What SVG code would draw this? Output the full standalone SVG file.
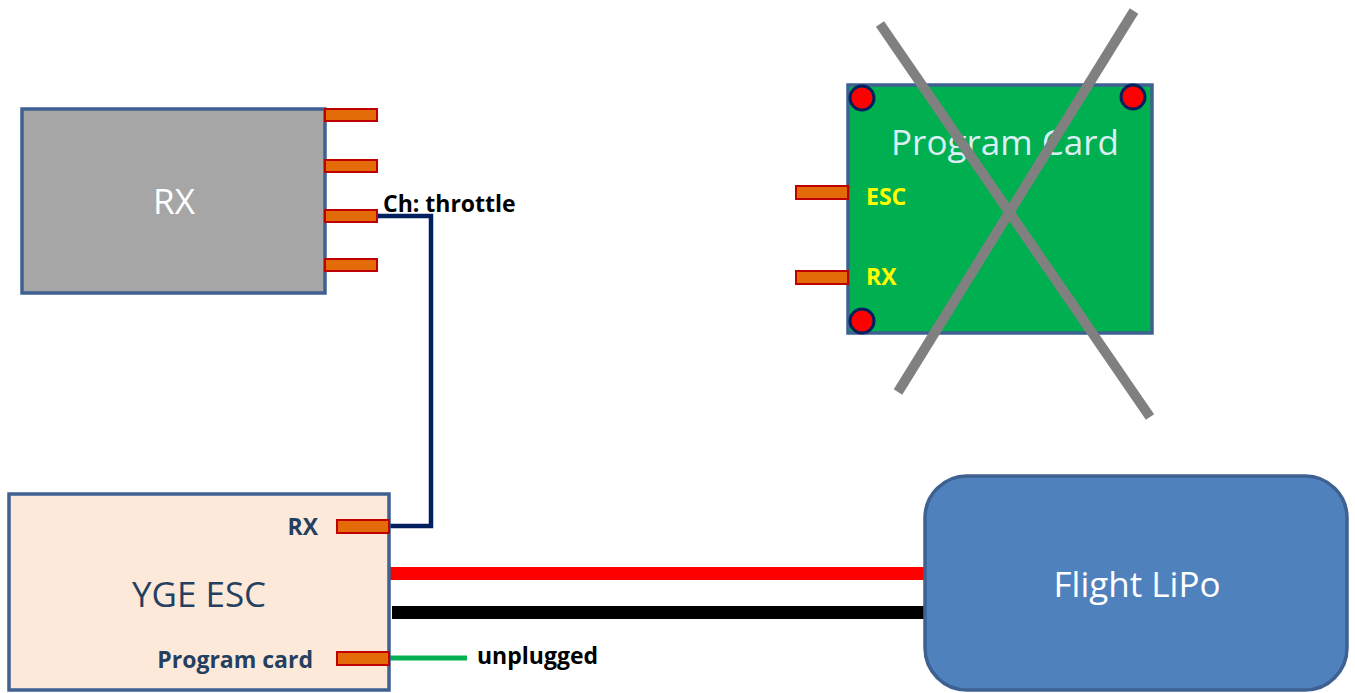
<svg xmlns="http://www.w3.org/2000/svg" width="1355" height="693" viewBox="0 0 1355 693">
<style>
.box{stroke:#3e6191;stroke-width:3.5}
.pin{fill:#e36c09;stroke:#c00000;stroke-width:2}
.big{font-family:"Open Sans","Noto Sans",sans-serif;font-size:35px;text-anchor:middle}
.lbl{font-family:"Open Sans","Noto Sans",sans-serif;font-size:23px;font-weight:bold}
.hole{fill:#ff0000;stroke:#002060;stroke-width:3}
</style>
<rect width="1355" height="693" fill="#ffffff"/>
<g id="connectors">
<polyline points="377,216 431,216 431,526 389,526" fill="none" stroke="#002060" stroke-width="4.5"/>
<rect x="389" y="567" width="536" height="13" fill="#ff0000"/>
<rect x="392" y="606" width="533" height="13" fill="#000000"/>
<line x1="389" y1="658" x2="467" y2="658" stroke="#00b050" stroke-width="5"/>
<text class="lbl" x="383" y="212" fill="#000000">Ch: throttle</text>
<text class="lbl" x="477" y="664" fill="#000000">unplugged</text>
</g>
<g id="rx">
<rect class="box" x="22" y="109" width="303" height="184" fill="#a6a6a6"/>
<rect class="pin" x="325" y="109" width="52" height="12"/>
<rect class="pin" x="325" y="160" width="52" height="12"/>
<rect class="pin" x="325" y="210" width="52" height="12"/>
<rect class="pin" x="325" y="259" width="52" height="12"/>
<text class="big" x="174" y="214" fill="#ffffff">RX</text>
</g>
<g id="program-card">
<rect class="box" x="848" y="85" width="304" height="248" fill="#00b050"/>
<rect class="pin" x="796" y="186" width="52" height="13"/>
<rect class="pin" x="796" y="271" width="52" height="13"/>
<circle class="hole" cx="862" cy="98" r="12"/>
<circle class="hole" cx="1133" cy="97" r="12"/>
<circle class="hole" cx="862" cy="321" r="12"/>
<text class="big" x="1005" y="155" fill="#dbeef4">Program Card</text>
<text class="lbl" x="866" y="205" fill="#ffff00">ESC</text>
<text class="lbl" x="866" y="285" fill="#ffff00">RX</text>
<line x1="880" y1="24" x2="1150" y2="417" stroke="#808080" stroke-width="10"/>
<line x1="1134" y1="11" x2="898" y2="392" stroke="#808080" stroke-width="10"/>
</g>
<g id="esc">
<rect class="box" x="9" y="494" width="380" height="196" fill="#fde9d9"/>
<rect class="pin" x="337" y="520" width="52" height="13"/>
<rect class="pin" x="337" y="652" width="52" height="13"/>
<text class="big" x="199" y="607" fill="#243f60">YGE ESC</text>
<text class="lbl" x="318" y="535" fill="#243f60" text-anchor="end">RX</text>
<text class="lbl" x="313" y="668" fill="#243f60" text-anchor="end">Program card</text>
</g>
<g id="lipo">
<rect class="box" x="925" y="476" width="422" height="214" rx="42" fill="#4f81bd"/>
<text class="big" x="1137" y="597" fill="#ffffff">Flight LiPo</text>
</g>
</svg>
